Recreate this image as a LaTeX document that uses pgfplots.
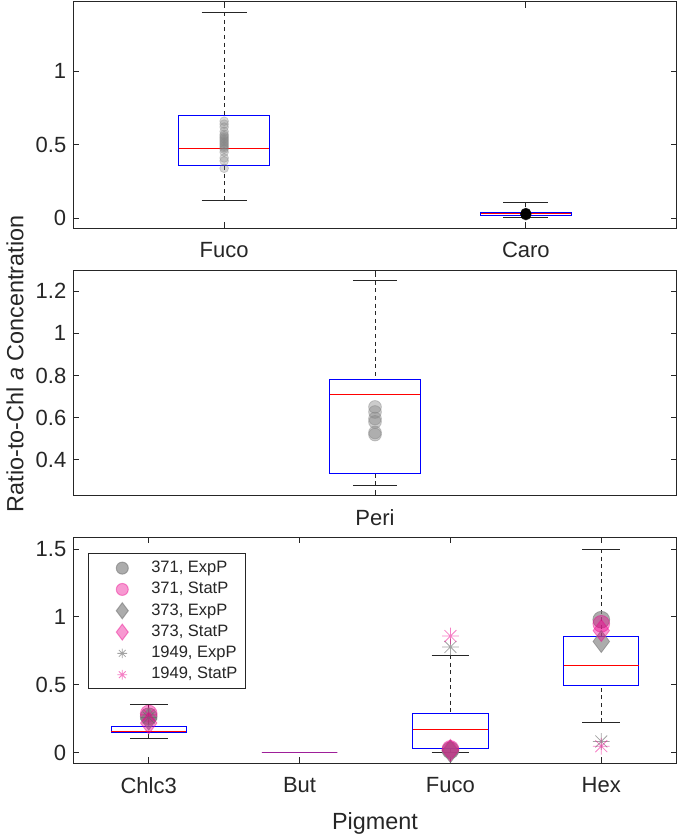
\documentclass[border=0pt]{standalone}
\usepackage{fontspec}
\setmainfont{Liberation Sans}
\usepackage{pgfplots}
\pgfplotsset{compat=1.18}
\usepgfplotslibrary{statistics}

\definecolor{axgray}{rgb}{0.15,0.15,0.15}
\definecolor{butpurple}{rgb}{0.62,0.12,0.6}

% MATLAB-like '*' marker (plus and cross)
\pgfdeclareplotmark{mlstar}{%
  \pgfpathmoveto{\pgfqpoint{-\pgfplotmarksize}{0pt}}\pgfpathlineto{\pgfqpoint{\pgfplotmarksize}{0pt}}%
  \pgfpathmoveto{\pgfqpoint{0pt}{-\pgfplotmarksize}}\pgfpathlineto{\pgfqpoint{0pt}{\pgfplotmarksize}}%
  \pgfpathmoveto{\pgfqpoint{-0.707\pgfplotmarksize}{-0.707\pgfplotmarksize}}\pgfpathlineto{\pgfqpoint{0.707\pgfplotmarksize}{0.707\pgfplotmarksize}}%
  \pgfpathmoveto{\pgfqpoint{-0.707\pgfplotmarksize}{0.707\pgfplotmarksize}}\pgfpathlineto{\pgfqpoint{0.707\pgfplotmarksize}{-0.707\pgfplotmarksize}}%
  \pgfusepathqstroke}

\pgfplotsset{
  panel/.style={
    scale only axis, width=301.7pt, anchor=north west,
    axis line style={draw=axgray, line width=0.5pt},
    every tick/.style={draw=axgray, line width=0.5pt},
    tick align=inside, major tick length=3pt, tick pos=both,
    tick label style={font=\fontsize{11}{13}\selectfont, text=axgray},
    yticklabel style={/pgf/number format/assume math mode=true},
    xticklabel style={yshift=-3.5pt},
  },
  mlbox/.style={
    solid, line width=0.5pt,
    boxplot/draw direction=y,
    boxplot/every box/.style={draw=blue},
    boxplot/every median/.style={draw=red},
    boxplot/draw/lower whisker/.code={%
      \draw[dash pattern=on 2pt off 1.8pt, draw=axgray]
        (boxplot box cs:\pgfplotsboxplotvalue{lower whisker},0.5) --
        (boxplot box cs:\pgfplotsboxplotvalue{lower quartile},0.5);
      \draw[draw=axgray]
        (boxplot whisker cs:\pgfplotsboxplotvalue{lower whisker},0) --
        (boxplot whisker cs:\pgfplotsboxplotvalue{lower whisker},1);
    },
    boxplot/draw/upper whisker/.code={%
      \draw[dash pattern=on 2pt off 1.8pt, draw=axgray]
        (boxplot box cs:\pgfplotsboxplotvalue{upper whisker},0.5) --
        (boxplot box cs:\pgfplotsboxplotvalue{upper quartile},0.5);
      \draw[draw=axgray]
        (boxplot whisker cs:\pgfplotsboxplotvalue{upper whisker},0) --
        (boxplot whisker cs:\pgfplotsboxplotvalue{upper whisker},1);
    },
  },
  lgsize/.style={legend image code/.code={%
    \path[draw=none, fill=none] (0pt,-3pt) rectangle (27.5pt,3pt);
    \draw[mark repeat=2, mark phase=2, ##1, mark size=#1]
      plot coordinates {(0pt,0pt) (15pt,0pt) (30pt,0pt)};}},
  greypt/.style={only marks, mark options={draw=black!50, fill=black!50, opacity=0.65}},
  pinkpt/.style={only marks, mark options={draw=magenta, fill=magenta, opacity=0.4}},
}

\begin{document}
\begin{tikzpicture}
\useasboundingbox (0,0) rectangle (342.5pt,-420pt);

% ---- panel 1: Fuco, Caro
\begin{axis}[panel, at={(36.65pt,-1pt)}, height=113pt,
  xmin=0.5, xmax=2.5, ymin=-0.066, ymax=1.47,
  xtick={1,2}, xticklabels={Fuco,Caro}, ytick={0,0.5,1}]
\addplot[mlbox, boxplot prepared={draw position=1, lower whisker=0.122,
  lower quartile=0.358, median=0.474, upper quartile=0.696, upper whisker=1.40,
  box extend=0.3, whisker extend=0.15}] coordinates {};
\addplot[mlbox, boxplot prepared={draw position=2, lower whisker=0.005,
  lower quartile=0.02, median=0.03, upper quartile=0.036, upper whisker=0.107,
  box extend=0.3, whisker extend=0.15}] coordinates {};
\addplot[only marks, mark=*, mark size=2.2pt,
  mark options={draw=black!50, fill=black!50, opacity=0.3}] coordinates {
(1,0.66) (1,0.64) (1,0.62) (1,0.59) (1,0.57) (1,0.56) (1,0.55) (1,0.54)
(1,0.53) (1,0.52) (1,0.51) (1,0.50) (1,0.49) (1,0.48) (1,0.47) (1,0.45)
(1,0.41) (1,0.39) (1,0.34)
};
\addplot[only marks, mark=*, mark size=2.5pt,
  mark options={draw=black, fill=black, opacity=0.45}] coordinates {
(2,0.022) (2,0.025) (2,0.027) (2,0.028) (2,0.030) (2,0.031) (2,0.033) (2,0.035)
};
\end{axis}

% ---- panel 2: Peri
\begin{axis}[panel, at={(36.65pt,-135.25pt)}, height=112.6pt,
  xmin=0.5, xmax=1.5, ymin=0.23, ymax=1.298,
  xtick={1}, xticklabels={Peri}, ytick={0.4,0.6,0.8,1,1.2}]
\addplot[mlbox, boxplot prepared={draw position=1, lower whisker=0.28,
  lower quartile=0.337, median=0.71, upper quartile=0.782, upper whisker=1.249,
  box extend=0.15, whisker extend=0.073}] coordinates {};
\addplot[only marks, mark=*, mark size=3.2pt,
  mark options={draw=black!50, fill=black!50, opacity=0.4}] coordinates {
(1,0.651) (1,0.627) (1,0.596) (1,0.58) (1,0.53) (1,0.52)
};
\end{axis}

% ---- panel 3: Chlc3, But, Fuco, Hex
\begin{axis}[panel, at={(36.65pt,-268.65pt)}, height=113pt,
  xmin=0.5, xmax=4.5, ymin=-0.076, ymax=1.586,
  xtick={1,2,3,4}, xticklabels={Chlc3,But,Fuco,Hex}, ytick={0,0.5,1,1.5},
  legend style={at={(0.024,0.929)}, anchor=north west, draw=axgray,
    line width=0.5pt, font=\fontsize{8.25}{9.5}\selectfont, text=axgray,
    row sep=-0.6pt, inner xsep=2pt, inner ysep=1.5pt},
  legend cell align=left]
\addplot[mlbox, forget plot, boxplot prepared={draw position=1, lower whisker=0.11,
  lower quartile=0.154, median=0.16, upper quartile=0.196, upper whisker=0.353,
  box extend=0.5, whisker extend=0.25}] coordinates {};
\addplot[mlbox, forget plot, boxplot/every box/.style={draw=butpurple},
  boxplot/every median/.style={draw=butpurple},
  boxplot prepared={draw position=2, lower whisker=0,
  lower quartile=0, median=0, upper quartile=0, upper whisker=0,
  box extend=0.5, whisker extend=0.25}] coordinates {};
\addplot[mlbox, forget plot, boxplot prepared={draw position=3, lower whisker=0.0,
  lower quartile=0.035, median=0.176, upper quartile=0.287, upper whisker=0.72,
  box extend=0.5, whisker extend=0.25}] coordinates {};
\addplot[mlbox, forget plot, boxplot prepared={draw position=4, lower whisker=0.226,
  lower quartile=0.493, median=0.645, upper quartile=0.853, upper whisker=1.50,
  box extend=0.5, whisker extend=0.25}] coordinates {};

\addplot[greypt, mark=*, mark size=4.2pt, lgsize=3pt] coordinates {(1,0.27) (3,0.02) (4,0.98)};
\addlegendentry{371, ExpP}
\addplot[pinkpt, mark=*, mark size=4.2pt, lgsize=3pt] coordinates {(1,0.29) (3,0.03) (4,0.95)};
\addlegendentry{371, StatP}
\addplot[greypt, mark=diamond*, mark size=5.5pt, lgsize=4pt] coordinates {(1,0.25) (3,0.01) (4,0.82)};
\addlegendentry{373, ExpP}
\addplot[pinkpt, mark=diamond*, mark size=5.5pt, lgsize=4pt] coordinates {(1,0.22) (3,0.02) (4,0.90)};
\addlegendentry{373, StatP}
\addplot[only marks, mark=mlstar, mark size=4.2pt, lgsize=2.4pt,
  mark options={draw=black!60, opacity=0.6, line width=0.4pt}] coordinates {(1,0.26) (3,0.78) (4,0.085)};
\addlegendentry{1949, ExpP}
\addplot[only marks, mark=mlstar, mark size=4.2pt, lgsize=2.4pt,
  mark options={draw=magenta, opacity=0.5, line width=0.4pt}] coordinates {(1,0.28) (3,0.86) (4,0.05)};
\addlegendentry{1949, StatP}
\end{axis}

\node[rotate=90, font=\fontsize{11.7}{13}\selectfont, text=axgray] at (7.5pt,-182pt)
  {Ratio-to-Chl \textit{a} Concentration};
\node[font=\fontsize{11.7}{13}\selectfont, text=axgray] at (187.5pt,-411.5pt) {Pigment};
\end{tikzpicture}
\end{document}
